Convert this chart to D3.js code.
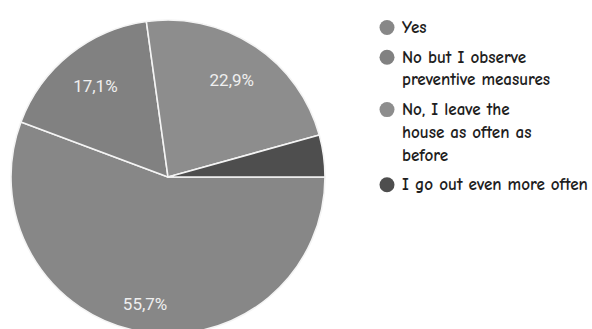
<!DOCTYPE html>
<html>
<head>
<meta charset="utf-8">
<script src="https://cdn.jsdelivr.net/npm/d3@7"></script>
<style>
  html, body { margin: 0; padding: 0; background: #fff; }
  svg { display: block; }
</style>
</head>
<body>
<svg id="chart" width="592" height="329"></svg>
<script>
// ---- data ----
const categories = ["Yes", "No but I observe preventive measures", "No, I leave the house as often as before", "I go out even more often"];
const legendLines = [["Yes"], ["No but I observe", "preventive measures"], ["No, I leave the", "house as often as", "before"], ["I go out even more often"]];
const values = [55.7, 17.1, 22.9, 4.3];
const valueLabels = ["55,7%", "17,1%", "22,9%", ""];
const colors = ["#878787", "#818181", "#8d8d8d", "#4e4e4e"];

// ---- layout ----
const W = 592, H = 329;
const cx = 168, cy = 177, R = 157;
const svg = d3.select("#chart");

const pie = d3.pie().sort(null).value(d => d)
  .startAngle(Math.PI / 2).endAngle(Math.PI / 2 + 2 * Math.PI);
const arcs = pie(values);
const arc = d3.arc().innerRadius(0).outerRadius(R);

const g = svg.append("g").attr("transform", `translate(${cx},${cy})`);
g.selectAll("path.slice").data(arcs).enter().append("path")
  .attr("class", "slice")
  .attr("d", arc)
  .attr("fill", (d, i) => colors[i])
  .attr("stroke", "#f4f4f4")
  .attr("stroke-width", 1.6)
  .attr("stroke-linejoin", "round");

g.selectAll("text.lbl").data(arcs).enter().append("text")
  .attr("class", "lbl")
  .each(function(d, i) {
    const r = d.data > 50 ? R * 0.82 : R * 0.74;
    const la = d3.arc().innerRadius(r).outerRadius(r);
    const [x, y] = la.centroid(d);
    d3.select(this).attr("x", x).attr("y", y);
  })
  .attr("text-anchor", "middle")
  .attr("dominant-baseline", "central")
  .attr("font-family", "Roboto, Arial, 'Liberation Sans', sans-serif")
  .attr("font-size", 17)
  .attr("fill", "#efefef")
  .text((d, i) => valueLabels[i]);

// ---- legend ----
const legend = svg.append("g");
const textX = 402, circX = 387, circR = 7.5;
const lineH = 22.7, itemGap = 7;
const fontFam = "'Comic Sans MS', 'Comic Neue', 'DejaVu Sans', sans-serif";
const fontW = 700;

// fit font size so the longest line matches the reference width
const probe = svg.append("text").attr("font-family", fontFam).attr("font-size", 20)
  .attr("font-weight", fontW).text(legendLines[3][0]);
const w20 = probe.node().getComputedTextLength();
probe.remove();
const fs = Math.min(18, 20 * 186 / w20);

let y = 33;
categories.forEach((c, i) => {
  legend.append("circle")
    .attr("cx", circX).attr("cy", y - 5.5).attr("r", circR)
    .attr("fill", colors[i]);
  const t = legend.append("text")
    .attr("font-family", fontFam).attr("font-size", fs)
    .attr("font-weight", fontW)
    .attr("fill", "#1e1e1e");
  legendLines[i].forEach((ln, k) => {
    t.append("tspan").attr("x", textX).attr("y", y + k * lineH).text(ln);
  });
  y += legendLines[i].length * lineH + itemGap;
});
</script>
</body>
</html>
